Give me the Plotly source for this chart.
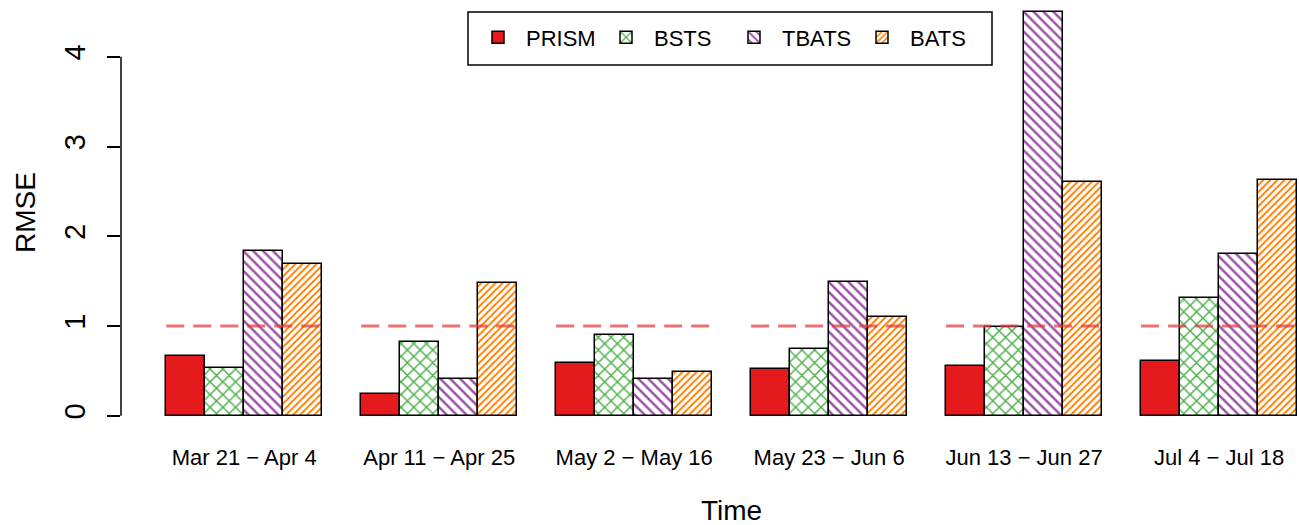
import plotly.graph_objects as go

# Forecast windows and RMSE of each method
periods = ["Mar 21 \u2212 Apr 4", "Apr 11 \u2212 Apr 25", "May 2 \u2212 May 16",
           "May 23 \u2212 Jun 6", "Jun 13 \u2212 Jun 27", "Jul 4 \u2212 Jul 18"]
prism = [0.67, 0.24, 0.59, 0.52, 0.56, 0.61]
bsts = [0.53, 0.82, 0.90, 0.74, 0.99, 1.31]
tbats = [1.84, 0.41, 0.41, 1.49, 4.50, 1.80]
bats = [1.69, 1.48, 0.49, 1.10, 2.60, 2.63]
reference_level = 1.0

methods = ["PRISM", "BSTS", "TBATS", "BATS"]
series = [prism, bsts, tbats, bats]
colors = ["#E41A1C", "#4DAF4A", "#984EA3", "#FF7F00"]
patterns = [None, dict(shape="x", size=9, solidity=0.3),
            dict(shape="\\", size=7, solidity=0.34),
            dict(shape="/", size=5, solidity=0.4)]

FONT = "Liberation Sans, Arial, Helvetica, sans-serif"
W, H = 1299, 525
ML, MB = 121, 93
PW, PH = W - ML, H - MB
n_groups = len(periods)
n_methods = len(methods)
step = n_methods + 1  # one empty bar slot between groups


def bar_x(g, k):
    return 1.5 + step * g + k


def px_x(p):
    return (p - ML) / PW


def px_y(p):
    return (PH - p) / PH


fig = go.Figure()
for k, (name, vals, col, pat) in enumerate(zip(methods, series, colors, patterns)):
    xs = [bar_x(g, k) for g in range(n_groups)]
    if pat is None:
        marker = dict(color=col, line=dict(color="black", width=1.5))
    else:
        marker = dict(color="white", line=dict(color="black", width=1.5),
                      pattern=dict(fgcolor=col, bgcolor="white", fillmode="replace", **pat))
    fig.add_trace(go.Bar(x=xs, y=vals, width=1.0, name=name, marker=marker))

# dashed reference line across each group
lx, ly = [], []
for g in range(n_groups):
    lx += [1 + step * g, 1 + step * g + n_methods, None]
    ly += [reference_level, reference_level, None]
fig.add_trace(go.Scatter(x=lx, y=ly, mode="lines", showlegend=False, hoverinfo="skip",
                         line=dict(color="rgba(226,60,60,0.72)", width=3, dash="18px,9px")))

centers = [1 + step * g + n_methods / 2 for g in range(n_groups)]

fig.update_layout(
    width=W, height=H,
    margin=dict(l=ML, r=0, t=0, b=MB),
    plot_bgcolor="white", paper_bgcolor="white",
    barmode="overlay", bargap=0,
    font=dict(family=FONT, color="black"),
    showlegend=True,
    legend=dict(orientation="h", x=px_x(470), xanchor="left", y=px_y(16.5), yanchor="top",
                borderwidth=0, bgcolor="rgba(255,255,255,0)",
                font=dict(size=22, family=FONT), itemwidth=46,
                entrywidth=67, entrywidthmode="pixels", traceorder="normal"),
    xaxis=dict(range=[-0.16, 30.05], showline=False, showgrid=False, zeroline=False,
               tickmode="array", tickvals=centers, ticktext=periods, ticks="",
               tickfont=dict(size=22, family=FONT), ticklabelstandoff=10),
    yaxis=dict(range=[-0.18, 4.633], showline=False, showgrid=False, zeroline=False,
               tickmode="array", tickvals=[0, 1, 2, 3, 4], ticks="outside", ticklen=13,
               tickwidth=1.5, tickcolor="black", tickangle=-90, ticklabelstandoff=10,
               tickfont=dict(size=29, family=FONT)),
    shapes=[
        dict(type="line", xref="paper", yref="y", x0=0, x1=0, y0=0, y1=4,
             line=dict(color="black", width=1.5)),
        # legend frame
        dict(type="rect", xref="paper", yref="paper", x0=px_x(468), x1=px_x(992),
             y0=px_y(65), y1=px_y(12), fillcolor="white", layer="above",
             line=dict(color="black", width=1.5)),
    ],
    annotations=[
        dict(text="Time", xref="paper", yref="paper", x=px_x(731), y=px_y(510),
             showarrow=False, font=dict(size=28, family=FONT), xanchor="center", yanchor="middle"),
        dict(text="RMSE", xref="paper", yref="paper", x=px_x(25), y=px_y(213),
             showarrow=False, textangle=-90, font=dict(size=28, family=FONT),
             xanchor="center", yanchor="middle"),
    ],
)

fig.write_html("out.html")
